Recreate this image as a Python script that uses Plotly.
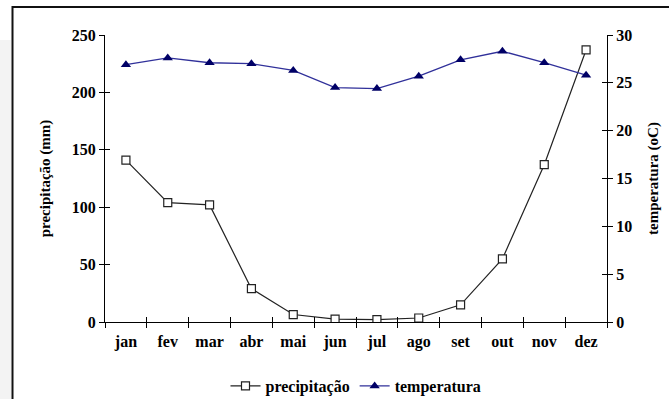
import plotly.graph_objects as go

months = ["jan", "fev", "mar", "abr", "mai", "jun", "jul", "ago", "set", "out", "nov", "dez"]
precipitacao = [141, 104, 102, 29, 6.5, 2.5, 2, 3.5, 15, 55, 137, 237]
temperatura = [26.9, 27.6, 27.1, 27.0, 26.3, 24.5, 24.4, 25.7, 27.4, 28.3, 27.1, 25.8]

FONT = "Liberation Serif"
L, R, T, B = 105, 62, 35, 77
W, H = 669, 399
pw, ph = W - L - R, H - T - B

def px2paper_x(px):
    return (px - L) / pw

def px2paper_y(py):
    return (H - B - py) / ph

fig = go.Figure()
fig.add_trace(go.Scatter(
    x=months, y=precipitacao, name="precipitação", mode="lines+markers",
    line=dict(color="#222222", width=1.2),
    marker=dict(symbol="square", size=8, color="white", line=dict(color="#222222", width=1.2)),
    yaxis="y",
))
fig.add_trace(go.Scatter(
    x=months, y=temperatura, name="temperatura", mode="lines+markers",
    line=dict(color="#30309a", width=1.3),
    marker=dict(symbol="triangle-up", size=9, color="#000066", line=dict(width=0)),
    yaxis="y2",
))
# invisible helper traces so that the tick-crossing overlay axes are drawn
fig.add_trace(go.Scatter(x=[0], y=[0], xaxis="x2", yaxis="y3", mode="markers",
                         marker=dict(opacity=0), showlegend=False, hoverinfo="skip"))
fig.add_trace(go.Scatter(x=[0], y=[0], xaxis="x2", yaxis="y4", mode="markers",
                         marker=dict(opacity=0), showlegend=False, hoverinfo="skip"))

tickfont = dict(family=FONT, size=16, color="black", weight="bold")
titlefont = dict(family=FONT, size=15, color="black", weight="bold")
fig.update_layout(
    width=W, height=H,
    margin=dict(l=L, r=R, t=T, b=B, autoexpand=False),
    paper_bgcolor="white", plot_bgcolor="white",
    showlegend=True,
    legend=dict(orientation="h", x=0.5, xanchor="center", y=-0.223, yanchor="middle",
                font=dict(family=FONT, size=16, color="black", weight="bold"),
                itemwidth=30, tracegroupgap=0, bgcolor="rgba(0,0,0,0)"),
    xaxis=dict(type="category", categoryorder="array", categoryarray=months,
               range=[-0.5, 11.5], showline=True, linecolor="black", linewidth=1,
               ticks="outside", tickson="boundaries", ticklen=5, tickcolor="black",
               ticklabelstandoff=5,
               tickfont=tickfont, showgrid=False, zeroline=False, automargin=False),
    yaxis=dict(range=[0, 250], tickvals=[0, 50, 100, 150, 200, 250],
               showline=True, linecolor="black", linewidth=1,
               ticks="outside", ticklen=5, tickcolor="black",
               tickfont=tickfont, showgrid=False, zeroline=False, automargin=False,
               title=dict(text="precipitação (mm)", font=titlefont, standoff=17)),
    yaxis2=dict(range=[0, 30], tickvals=[0, 5, 10, 15, 20, 25, 30], overlaying="y", side="right",
                showline=True, linecolor="black", linewidth=1,
                ticks="outside", ticklen=5, tickcolor="black",
                tickfont=tickfont, showgrid=False, zeroline=False, automargin=False,
                title=dict(text="temperatura (oC)", font=titlefont, standoff=16)),
    xaxis2=dict(range=[-0.5, 11.5], overlaying="x", tickvals=[i - 0.5 for i in range(13)],
                ticks="inside", ticklen=5, tickcolor="black", showticklabels=False,
                showline=False, showgrid=False, zeroline=False, side="bottom", automargin=False),
    yaxis3=dict(range=[0, 250], overlaying="y", tickvals=[0, 50, 100, 150, 200, 250],
                ticks="inside", ticklen=5, tickcolor="black", showticklabels=False,
                showline=False, showgrid=False, zeroline=False, side="left", anchor="x2",
                automargin=False),
    yaxis4=dict(range=[0, 30], overlaying="y", tickvals=[0, 5, 10, 15, 20, 25, 30],
                ticks="inside", ticklen=5, tickcolor="black", showticklabels=False,
                showline=False, showgrid=False, zeroline=False, side="right", anchor="x2",
                automargin=False),
    shapes=[
        # faint grey band left of the frame
        dict(type="rect", xref="paper", yref="paper",
             x0=px2paper_x(0), x1=px2paper_x(11), y0=px2paper_y(420), y1=px2paper_y(40),
             fillcolor="#f3f3f3", line=dict(width=0), layer="below"),
        # outer frame
        dict(type="rect", xref="paper", yref="paper",
             x0=px2paper_x(12.5), x1=px2paper_x(700), y0=px2paper_y(430), y1=px2paper_y(7),
             fillcolor="rgba(0,0,0,0)", line=dict(color="#111111", width=2)),
    ],
)

fig.write_html("out.html", config={"displayModeBar": False},
               post_script="document.body.style.margin='0';")
